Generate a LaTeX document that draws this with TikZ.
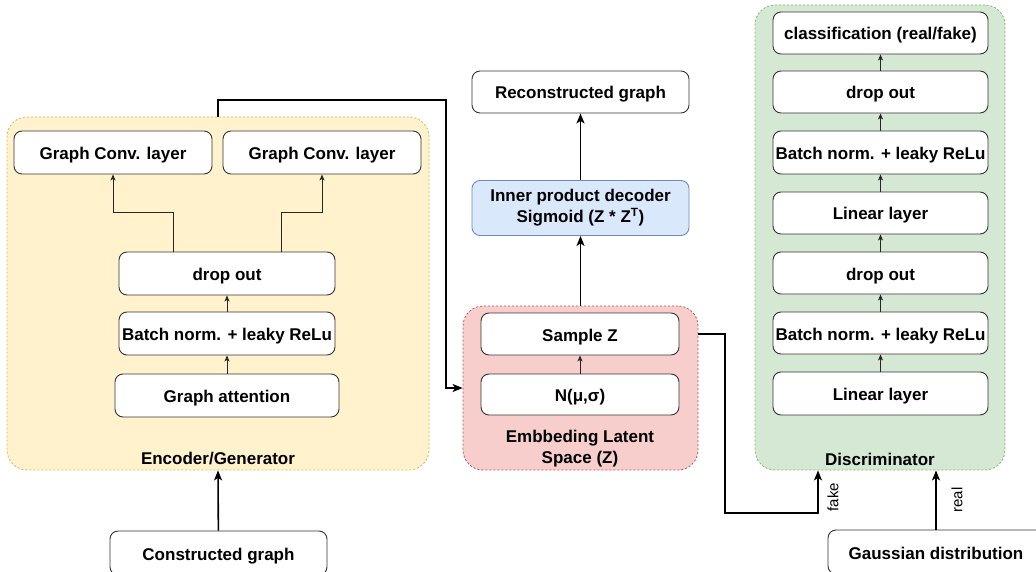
\documentclass[tikz,border=0pt]{standalone}
\usepackage{fontspec}
\setmainfont{Liberation Sans}
\usetikzlibrary{arrows.meta,calc}

\definecolor{encfill}{HTML}{FFF2CC}
\definecolor{encline}{HTML}{D6B656}
\definecolor{latfill}{HTML}{F8CECC}
\definecolor{latline}{HTML}{B85450}
\definecolor{discfill}{HTML}{D5E8D4}
\definecolor{discline}{HTML}{82B366}
\definecolor{decfill}{HTML}{DAE8FC}
\definecolor{decline}{HTML}{6C8EBF}
\definecolor{edge}{HTML}{333333}

\begin{document}
\begin{tikzpicture}[x=1pt,y=-1pt,
  font=\fontsize{17}{21}\selectfont\bfseries,
  layer/.style={draw=edge, fill=white, rounded corners=8pt, line width=0.9pt,
                inner sep=2pt, minimum height=42pt, text height=15.5pt, text depth=1.5pt},
  group/.style={rounded corners=20pt, dash pattern=on 2pt off 2pt,
                line width=0.8pt, inner sep=0pt},
  caption/.style={inner sep=0pt, align=center},
  conn/.style={line width=1.6pt, draw=black, -{Stealth[length=10pt,width=8pt,inset=2.5pt]}},
  link/.style={line width=0.8pt, draw=black!85, -{Stealth[length=6pt,width=5pt,inset=1.5pt]}},
  tag/.style={rotate=90, inner sep=0pt, font=\fontsize{15}{18}\selectfont}
]
\useasboundingbox (0,0) rectangle (1036,572);
\clip (0,0) rectangle (1036,572);

% ---- group frames ----
\node[group, fill=encfill, draw=encline, minimum width=422pt, minimum height=353pt] (enc) at (218,293.5) {};
\node[group, fill=latfill, draw=latline, minimum width=235pt, minimum height=164pt] (lat) at (580.5,388) {};
\node[group, fill=discfill, draw=discline, minimum width=250pt, minimum height=465pt] (disc) at (880,237.5) {};

% ---- encoder / generator ----
\node[layer, minimum width=198pt, minimum height=43pt] (gc1) at (113,152.5) {Graph Conv. layer};
\node[layer, minimum width=198pt, minimum height=43pt] (gc2) at (322,152.5) {Graph Conv. layer};
\node[layer, minimum width=216pt, minimum height=43pt] (drop1) at (227,273.5) {drop out};
\node[layer, minimum width=216pt, minimum height=43pt] (bn1) at (227,333.5) {Batch norm. + leaky ReLu};
\node[layer, minimum width=224pt, minimum height=43pt] (ga) at (227,395.5) {Graph attention};
\node[caption] (enclabel) at (218,459) {Encoder/Generator};
\node[layer, minimum width=217pt, minimum height=44pt] (cg) at (218.5,553) {Constructed graph};

% ---- latent space ----
\node[layer, minimum width=198pt] (sz) at (580,334) {Sample Z};
\node[layer, minimum width=198pt, minimum height=41pt] (nd) at (580,394.5) {N(μ,σ)};
\node[caption] (latlabel) at (580,449) {Embbeding Latent\\Space (Z)};

% ---- decoder (two text lines, natural height) ----
\node[layer, fill=decfill, draw=decline, minimum width=217pt, minimum height=55pt, align=center,
      text height=, text depth=] (dec) at (580.5,208) {Inner product decoder\\Sigmoid (Z * Z\textsuperscript{T})};
\node[layer, minimum width=217pt] (rec) at (580.5,92) {Reconstructed graph};

% ---- discriminator ----
\node[layer, minimum width=215pt] (cls) at (880.5,33) {classification (real/fake)};
\node[layer, minimum width=215pt] (d2) at (880.5,92) {drop out};
\node[layer, minimum width=215pt, minimum height=43pt] (b2) at (880.5,152.5) {Batch norm. + leaky ReLu};
\node[layer, minimum width=215pt] (l2) at (880.5,213) {Linear layer};
\node[layer, minimum width=215pt] (d1) at (880.5,273) {drop out};
\node[layer, minimum width=215pt] (b1) at (880.5,333) {Batch norm. + leaky ReLu};
\node[layer, minimum width=215pt, minimum height=43pt] (l1) at (880.5,393.5) {Linear layer};
\node[caption] (disclabel) at (880,459) {Discriminator};
\node[layer, minimum width=216pt, minimum height=44pt] (gauss) at (936,552) {Gaussian distribution};

% ---- bend points ----
\coordinate (up) at (446,100);
\coordinate (down) at (725,513);
\coordinate (fx) at (818,513);

% ---- encoder links ----
\draw[link] (ga) -- (bn1);
\draw[link] (bn1) -- (drop1);
\draw[link] ($(drop1.north)+(-54,0)$) -- ++(0,-39) -| (gc1.south);
\draw[link] ($(drop1.north)+(54,0)$) -- ++(0,-39) -| (gc2.south);
\draw[conn] (cg) -- (enc.south);
\draw[conn] (enc.north) |- (up) |- (lat.west);

% ---- latent and decoder links ----
\draw[link] (nd) -- (sz);
\draw[conn] (lat.north -| dec) -- (dec.south);
\draw[conn] (dec) -- (rec);

% ---- discriminator links ----
\draw[link] (l1) -- (b1);
\draw[link] (b1) -- (d1);
\draw[link] (d1) -- (l2);
\draw[link] (l2) -- (b2);
\draw[link] (b2) -- (d2);
\draw[link] (d2) -- (cls);
\draw[conn] (lat.east |- sz) -| (down) -| (disc.south -| fx);
\draw[conn] (gauss) -- (gauss.north |- disc.south);
\node[tag] (fake) at (833,497) {fake};
\node[tag] (real) at (957,500) {real};
\end{tikzpicture}
\end{document}
